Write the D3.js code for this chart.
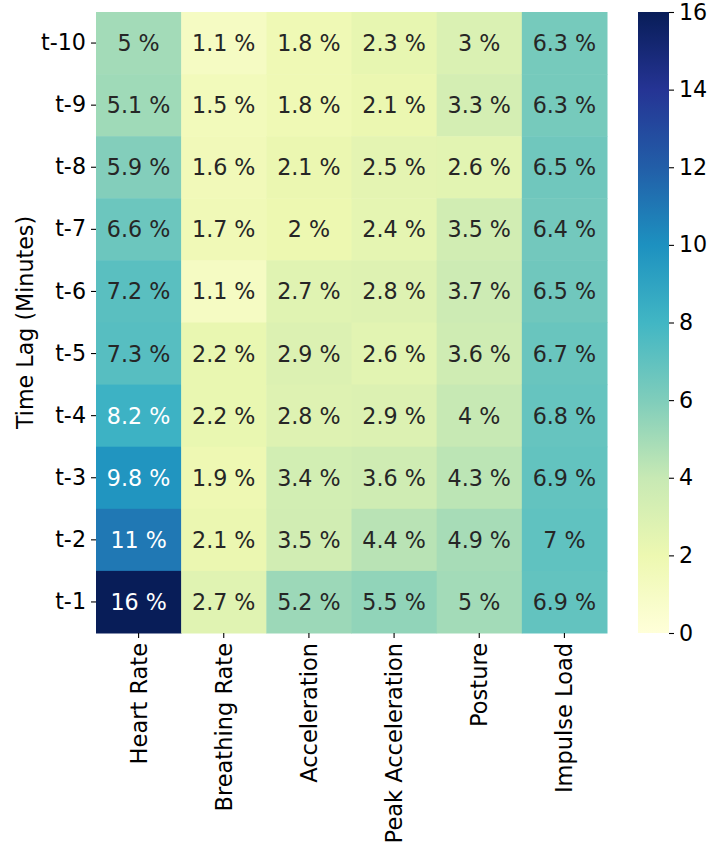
<!DOCTYPE html>
<html>
<head>
<meta charset="utf-8">
<script src="https://cdn.jsdelivr.net/npm/d3@7"></script>
<style>
  html, body { margin: 0; padding: 0; background: #fff; }
  svg { display: block; font-family: "DejaVu Sans", sans-serif; }
</style>
</head>
<body>
<svg id="chart" width="708" height="849"></svg>
<script>
// Feature importance (%) per time lag
const features = ["Heart Rate", "Breathing Rate", "Acceleration", "Peak Acceleration", "Posture", "Impulse Load"];
const lags = ["t-10", "t-9", "t-8", "t-7", "t-6", "t-5", "t-4", "t-3", "t-2", "t-1"];

const heartRate        = [5, 5.1, 5.9, 6.6, 7.2, 7.3, 8.2, 9.8, 11, 16];
const breathingRate    = [1.1, 1.5, 1.6, 1.7, 1.1, 2.2, 2.2, 1.9, 2.1, 2.7];
const acceleration     = [1.8, 1.8, 2.1, 2, 2.7, 2.9, 2.8, 3.4, 3.5, 5.2];
const peakAcceleration = [2.3, 2.1, 2.5, 2.4, 2.8, 2.6, 2.9, 3.6, 4.4, 5.5];
const posture          = [3, 3.3, 2.6, 3.5, 3.7, 3.6, 4, 4.3, 4.9, 5];
const impulseLoad      = [6.3, 6.3, 6.5, 6.4, 6.5, 6.7, 6.8, 6.9, 7, 6.9];

const colorbarTicks = [0, 2, 4, 6, 8, 10, 12, 14, 16];

const series = [heartRate, breathingRate, acceleration, peakAcceleration, posture, impulseLoad];
const cells = [];
features.forEach((f, i) => lags.forEach((l, j) => cells.push({ feature: f, lag: l, value: series[i][j] })));

// YlGnBu, piecewise linear over the 9 ColorBrewer anchors
const ylgnbu = ["#ffffd9", "#edf8b1", "#c7e9b4", "#7fcdbb", "#41b6c4", "#1d91c0", "#225ea8", "#253494", "#081d58"];
const vmin = 0, vmax = 16;
const color = d3.scaleLinear()
  .domain(d3.range(ylgnbu.length).map(i => vmin + (vmax - vmin) * i / (ylgnbu.length - 1)))
  .range(ylgnbu)
  .interpolate(d3.interpolateRgb)
  .clamp(true);

function luminance(c) {
  const rgb = d3.rgb(c);
  const lin = v => { v /= 255; return v <= 0.03928 ? v / 12.92 : Math.pow((v + 0.055) / 1.055, 2.4); };
  return 0.2126 * lin(rgb.r) + 0.7152 * lin(rgb.g) + 0.0722 * lin(rgb.b);
}

(function draw() {
  const svg = d3.select("#chart");
  const pLeft = 96, pRight = 607, pTop = 12, pBottom = 633;
  const fs = 22.2;
  const tickLen = 5;

  const x = d3.scaleBand().domain(features).range([pLeft, pRight]);
  const y = d3.scaleBand().domain(lags).range([pTop, pBottom]);

  // Heatmap cells
  svg.append("g").selectAll("rect").data(cells).join("rect")
    .attr("x", d => x(d.feature))
    .attr("y", d => y(d.lag))
    .attr("width", x.bandwidth() + 0.5)
    .attr("height", y.bandwidth() + 0.5)
    .attr("fill", d => color(d.value));

  // Cell annotations
  const fmt = v => d3.format(".2~g")(v) + " %";
  svg.append("g").selectAll("text").data(cells).join("text")
    .attr("x", d => x(d.feature) + x.bandwidth() / 2)
    .attr("y", d => y(d.lag) + y.bandwidth() / 2)
    .attr("text-anchor", "middle")
    .attr("dominant-baseline", "central")
    .attr("font-size", fs)
    .attr("fill", d => luminance(color(d.value)) > 0.408 ? "#262626" : "#ffffff")
    .text(d => fmt(d.value));

  // Y axis
  const yAxis = svg.append("g")
    .attr("transform", `translate(${pLeft},0)`)
    .call(d3.axisLeft(y).tickSize(tickLen).tickPadding(5));
  yAxis.select(".domain").remove();
  yAxis.selectAll("line").attr("stroke", "#000").attr("stroke-width", 1.1);
  yAxis.selectAll("text").attr("font-size", fs).attr("fill", "#000")
    .attr("font-family", "DejaVu Sans, sans-serif");

  // X axis with vertical labels
  const xAxis = svg.append("g")
    .attr("transform", `translate(0,${pBottom})`)
    .call(d3.axisBottom(x).tickSize(tickLen).tickPadding(5));
  xAxis.select(".domain").remove();
  xAxis.selectAll("line").attr("stroke", "#000").attr("stroke-width", 1.1);
  xAxis.selectAll("text")
    .attr("font-size", 22.5).attr("fill", "#000")
    .attr("font-family", "DejaVu Sans, sans-serif")
    .attr("x", 0)
    .attr("y", tickLen + 5)
    .attr("dy", null)
    .attr("text-anchor", "end")
    .attr("dominant-baseline", "central")
    .attr("transform", `rotate(-90, 0, ${tickLen + 5})`);

  // Y axis title
  svg.append("text")
    .attr("transform", `translate(25,${(pTop + pBottom) / 2}) rotate(-90)`)
    .attr("text-anchor", "middle")
    .attr("dominant-baseline", "central")
    .attr("font-size", fs)
    .attr("fill", "#000")
    .text("Time Lag (Minutes)");

  // Colorbar
  const cbLeft = 638, cbWidth = 31;
  const cbScale = d3.scaleLinear().domain([vmin, vmax]).range([pBottom, pTop]);
  const grad = svg.append("defs").append("linearGradient")
    .attr("id", "cbgrad").attr("x1", 0).attr("y1", 1).attr("x2", 0).attr("y2", 0);
  d3.range(0, 1.0001, 0.125).forEach(t => {
    grad.append("stop").attr("offset", t).attr("stop-color", color(vmin + t * (vmax - vmin)));
  });
  svg.append("rect")
    .attr("x", cbLeft).attr("y", pTop)
    .attr("width", cbWidth).attr("height", pBottom - pTop)
    .attr("fill", "url(#cbgrad)");

  const cbAxis = svg.append("g")
    .attr("transform", `translate(${cbLeft + cbWidth},0)`)
    .call(d3.axisRight(cbScale).tickValues(colorbarTicks).tickFormat(d3.format("d")).tickSize(tickLen).tickPadding(5));
  cbAxis.select(".domain").remove();
  cbAxis.selectAll("line").attr("stroke", "#000").attr("stroke-width", 1.1);
  cbAxis.selectAll("text").attr("font-size", fs).attr("fill", "#000")
    .attr("font-family", "DejaVu Sans, sans-serif");
})();
</script>
</body>
</html>
